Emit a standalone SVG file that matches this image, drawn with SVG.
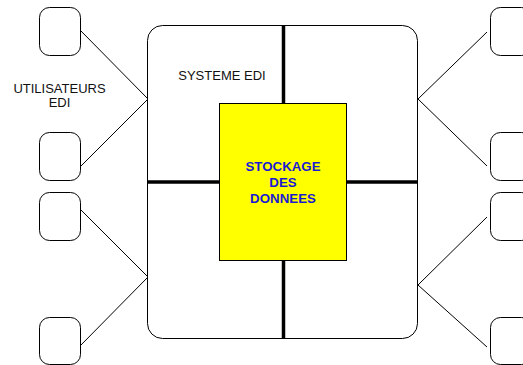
<svg xmlns="http://www.w3.org/2000/svg" width="523" height="365" viewBox="0 0 523 365">
<style>
.box{fill:#fff;stroke:#000;stroke-width:1}
.ln{stroke:#000;stroke-width:1;fill:none}
.thick{stroke:#000;stroke-width:3.5;fill:none}
.t{font-family:"Liberation Sans",Arial,sans-serif;font-size:13px;fill:#111;text-anchor:middle}
.b{font-family:"Liberation Sans",Arial,sans-serif;font-size:13.3px;font-weight:bold;fill:#1a1ad2;text-anchor:middle}
</style>
<rect width="523" height="365" fill="#fff"/>
<g id="systeme">
<rect class="box" x="147.5" y="25.5" width="270" height="313" rx="15" ry="15"/>
<text class="t" x="222" y="80" font-size="13.5">SYSTEME EDI</text>
</g>
<g id="connectors">
<line class="thick" x1="283.5" y1="26" x2="283.5" y2="103"/>
<line class="thick" x1="283.5" y1="261" x2="283.5" y2="338"/>
<line class="thick" x1="148" y1="182" x2="219" y2="182"/>
<line class="thick" x1="347" y1="182" x2="417" y2="182"/>
<polyline class="ln" points="80,30 148,99 80,167"/>
<polyline class="ln" points="80,209 148,277 80,346"/>
<polyline class="ln" points="487,32 418,99 487,166"/>
<polyline class="ln" points="487,217 418,285 487,347"/>
</g>
<g id="stockage">
<rect x="219.5" y="103.5" width="127" height="157" fill="#ffff00" stroke="#000" stroke-width="1"/>
<text class="b" x="283" y="171">STOCKAGE</text>
<text class="b" x="283" y="187">DES</text>
<text class="b" x="283" y="203">DONNEES</text>
</g>
<g id="utilisateurs-label">
<text class="t" x="59.5" y="93">UTILISATEURS</text>
<text class="t" x="59.5" y="107">EDI</text>
</g>
<g id="user-left-1"><rect class="box" x="39.5" y="7.5" width="41" height="48" rx="10"/></g>
<g id="user-left-2"><rect class="box" x="39.5" y="132.5" width="41" height="48" rx="10"/></g>
<g id="user-left-3"><rect class="box" x="39.5" y="192.5" width="41" height="48" rx="10"/></g>
<g id="user-left-4"><rect class="box" x="39.5" y="317.5" width="41" height="47" rx="10"/></g>
<g id="user-right-1"><rect class="box" x="490.5" y="7.5" width="41" height="48" rx="10"/></g>
<g id="user-right-2"><rect class="box" x="490.5" y="132.5" width="41" height="48" rx="10"/></g>
<g id="user-right-3"><rect class="box" x="490.5" y="192.5" width="41" height="48" rx="10"/></g>
<g id="user-right-4"><rect class="box" x="490.5" y="317.5" width="41" height="47" rx="10"/></g>
</svg>
